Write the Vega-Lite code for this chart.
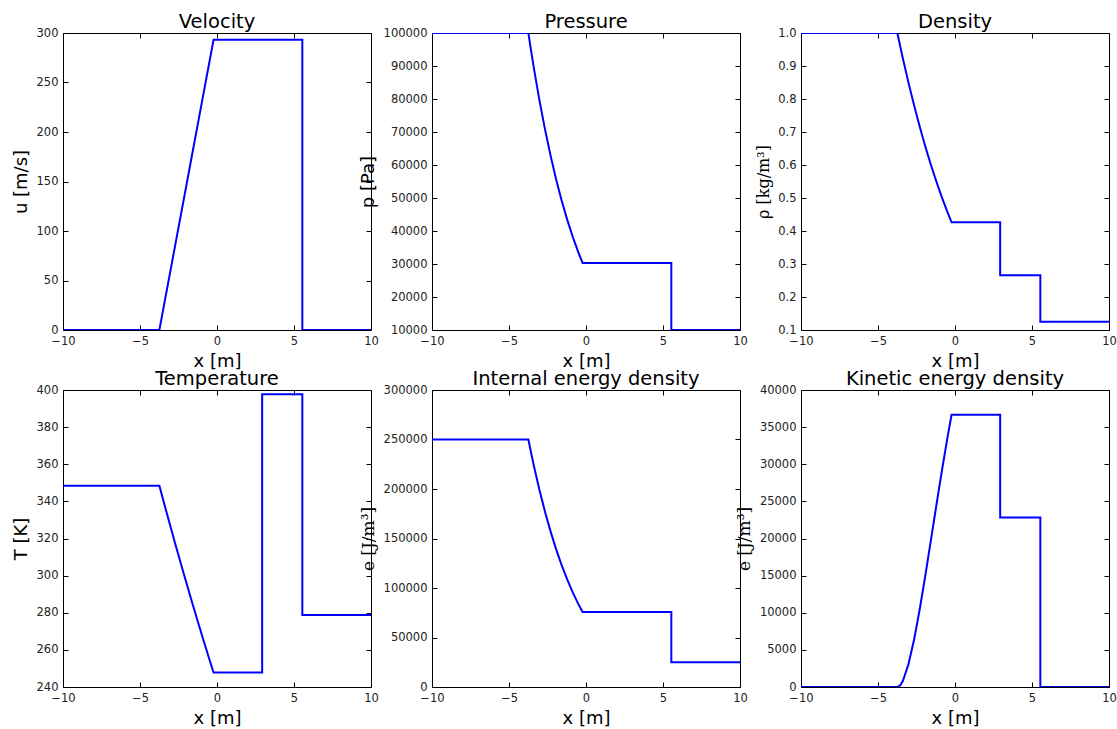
{
  "$schema": "https://vega.github.io/schema/vega-lite/v6.json",
  "autosize": {"type": "pad"},
  "padding": {"left": 11, "top": 11, "right": 0, "bottom": 0},
  "background": "white",
  "datasets": {
    "sod": [
      {"i": 0, "x": -10, "u": 0, "p": 100000, "rho": 1, "T": 348.43, "e": 250000, "k": 0},
      {"i": 1, "x": -3.742, "u": 0, "p": 100000, "rho": 1, "T": 348.43, "e": 250000, "k": 0},
      {"i": 2, "x": -3.562, "u": 15, "p": 94521, "rho": 0.96055, "T": 342.87, "e": 236302, "k": 216},
      {"i": 3, "x": -3.382, "u": 30, "p": 89301, "rho": 0.92236, "T": 337.35, "e": 223253, "k": 830},
      {"i": 4, "x": -3.022, "u": 60, "p": 79599, "rho": 0.84961, "T": 326.44, "e": 198997, "k": 3059},
      {"i": 5, "x": -2.662, "u": 90, "p": 70814, "rho": 0.78152, "T": 315.71, "e": 177035, "k": 6330},
      {"i": 6, "x": -2.302, "u": 120, "p": 62875, "rho": 0.71788, "T": 305.17, "e": 157187, "k": 10338},
      {"i": 7, "x": -1.942, "u": 150, "p": 55710, "rho": 0.65845, "T": 294.8, "e": 139275, "k": 14815},
      {"i": 8, "x": -1.582, "u": 180, "p": 49257, "rho": 0.60303, "T": 284.61, "e": 123143, "k": 19538},
      {"i": 9, "x": -1.222, "u": 210, "p": 43456, "rho": 0.5514, "T": 274.6, "e": 108640, "k": 24317},
      {"i": 10, "x": -0.862, "u": 240, "p": 38250, "rho": 0.50336, "T": 264.77, "e": 95625, "k": 28994},
      {"i": 11, "x": -0.502, "u": 270, "p": 33588, "rho": 0.45874, "T": 255.12, "e": 83971, "k": 33442},
      {"i": 12, "x": -0.222, "u": 293.29, "p": 30312, "rho": 0.42631, "T": 247.75, "e": 75780, "k": 36671},
      {"i": 13, "x": 2.933, "u": 293.29, "p": 30312, "rho": 0.42631, "T": 247.75, "e": 75780, "k": 36671},
      {"i": 14, "x": 2.933, "u": 293.29, "p": 30312, "rho": 0.26557, "T": 397.7, "e": 75780, "k": 22844},
      {"i": 15, "x": 5.541, "u": 293.29, "p": 30312, "rho": 0.26557, "T": 397.7, "e": 75780, "k": 22844},
      {"i": 16, "x": 5.541, "u": 0, "p": 10000, "rho": 0.125, "T": 278.75, "e": 25000, "k": 0},
      {"i": 17, "x": 10, "u": 0, "p": 10000, "rho": 0.125, "T": 278.75, "e": 25000, "k": 0}
    ]
  },
  "data": {"name": "sod"},
  "columns": 3,
  "spacing": {"row": 60, "column": 61},
  "bounds": "flush",
  "concat": [
    {
      "width": 308, "height": 297,
      "title": "Velocity",
      "layer": [
        {"mark": {"type": "line", "color": "#0000ff", "strokeWidth": 2, "clip": true},
         "encoding": {
           "x": {"field": "x", "type": "quantitative", "scale": {"domain": [-10, 10], "nice": false}, "axis": {"orient": "bottom", "values": [-10, -5, 0, 5, 10], "title": "x [m]"}},
           "y": {"field": "u", "type": "quantitative", "scale": {"domain": [0, 300], "nice": false, "zero": false}, "axis": {"orient": "left", "values": [0, 50, 100, 150, 200, 250, 300], "format": "d", "title": "u [m/s]"}},
           "order": {"field": "i"}}},
        {"mark": {"type": "line", "strokeOpacity": 0},
         "encoding": {
           "x": {"field": "x", "type": "quantitative", "axis": {"orient": "top", "values": [-10, -5, 0, 5, 10], "labels": false, "title": null}},
           "y": {"field": "u", "type": "quantitative", "axis": {"orient": "right", "values": [0, 50, 100, 150, 200, 250, 300], "labels": false, "title": null}},
           "order": {"field": "i"}}}
      ]
    },
    {
      "width": 308, "height": 297,
      "title": "Pressure",
      "layer": [
        {"mark": {"type": "line", "color": "#0000ff", "strokeWidth": 2, "clip": true},
         "encoding": {
           "x": {"field": "x", "type": "quantitative", "scale": {"domain": [-10, 10], "nice": false}, "axis": {"orient": "bottom", "values": [-10, -5, 0, 5, 10], "title": "x [m]"}},
           "y": {"field": "p", "type": "quantitative", "scale": {"domain": [10000, 100000], "nice": false, "zero": false}, "axis": {"orient": "left", "values": [10000, 20000, 30000, 40000, 50000, 60000, 70000, 80000, 90000, 100000], "format": "d", "title": "p [Pa]"}},
           "order": {"field": "i"}}},
        {"mark": {"type": "line", "strokeOpacity": 0},
         "encoding": {
           "x": {"field": "x", "type": "quantitative", "axis": {"orient": "top", "values": [-10, -5, 0, 5, 10], "labels": false, "title": null}},
           "y": {"field": "p", "type": "quantitative", "axis": {"orient": "right", "values": [10000, 20000, 30000, 40000, 50000, 60000, 70000, 80000, 90000, 100000], "labels": false, "title": null}},
           "order": {"field": "i"}}}
      ]
    },
    {
      "width": 308, "height": 297,
      "title": "Density",
      "layer": [
        {"mark": {"type": "line", "color": "#0000ff", "strokeWidth": 2, "clip": true},
         "encoding": {
           "x": {"field": "x", "type": "quantitative", "scale": {"domain": [-10, 10], "nice": false}, "axis": {"orient": "bottom", "values": [-10, -5, 0, 5, 10], "title": "x [m]"}},
           "y": {"field": "rho", "type": "quantitative", "scale": {"domain": [0.1, 1], "nice": false, "zero": false}, "axis": {"orient": "left", "values": [0.1, 0.2, 0.3, 0.4, 0.5, 0.6, 0.7, 0.8, 0.9, 1.0], "format": ".1f", "title": "ρ [kg/m³]", "titleFont": "DejaVu Serif", "titleFontSize": 16}},
           "order": {"field": "i"}}},
        {"mark": {"type": "line", "strokeOpacity": 0},
         "encoding": {
           "x": {"field": "x", "type": "quantitative", "axis": {"orient": "top", "values": [-10, -5, 0, 5, 10], "labels": false, "title": null}},
           "y": {"field": "rho", "type": "quantitative", "axis": {"orient": "right", "values": [0.1, 0.2, 0.3, 0.4, 0.5, 0.6, 0.7, 0.8, 0.9, 1.0], "labels": false, "title": null}},
           "order": {"field": "i"}}}
      ]
    },
    {
      "width": 308, "height": 297,
      "title": "Temperature",
      "layer": [
        {"mark": {"type": "line", "color": "#0000ff", "strokeWidth": 2, "clip": true},
         "encoding": {
           "x": {"field": "x", "type": "quantitative", "scale": {"domain": [-10, 10], "nice": false}, "axis": {"orient": "bottom", "values": [-10, -5, 0, 5, 10], "title": "x [m]"}},
           "y": {"field": "T", "type": "quantitative", "scale": {"domain": [240, 400], "nice": false, "zero": false}, "axis": {"orient": "left", "values": [240, 260, 280, 300, 320, 340, 360, 380, 400], "format": "d", "title": "T [K]"}},
           "order": {"field": "i"}}},
        {"mark": {"type": "line", "strokeOpacity": 0},
         "encoding": {
           "x": {"field": "x", "type": "quantitative", "axis": {"orient": "top", "values": [-10, -5, 0, 5, 10], "labels": false, "title": null}},
           "y": {"field": "T", "type": "quantitative", "axis": {"orient": "right", "values": [240, 260, 280, 300, 320, 340, 360, 380, 400], "labels": false, "title": null}},
           "order": {"field": "i"}}}
      ]
    },
    {
      "width": 308, "height": 297,
      "title": "Internal energy density",
      "layer": [
        {"mark": {"type": "line", "color": "#0000ff", "strokeWidth": 2, "clip": true},
         "encoding": {
           "x": {"field": "x", "type": "quantitative", "scale": {"domain": [-10, 10], "nice": false}, "axis": {"orient": "bottom", "values": [-10, -5, 0, 5, 10], "title": "x [m]"}},
           "y": {"field": "e", "type": "quantitative", "scale": {"domain": [0, 300000], "nice": false}, "axis": {"orient": "left", "values": [0, 50000, 100000, 150000, 200000, 250000, 300000], "format": "d", "title": "e [J/m³]", "titleFont": "DejaVu Serif", "titleFontSize": 17}},
           "order": {"field": "i"}}},
        {"mark": {"type": "line", "strokeOpacity": 0},
         "encoding": {
           "x": {"field": "x", "type": "quantitative", "axis": {"orient": "top", "values": [-10, -5, 0, 5, 10], "labels": false, "title": null}},
           "y": {"field": "e", "type": "quantitative", "axis": {"orient": "right", "values": [0, 50000, 100000, 150000, 200000, 250000, 300000], "labels": false, "title": null}},
           "order": {"field": "i"}}}
      ]
    },
    {
      "width": 308, "height": 297,
      "title": "Kinetic energy density",
      "layer": [
        {"mark": {"type": "line", "color": "#0000ff", "strokeWidth": 2, "clip": true},
         "encoding": {
           "x": {"field": "x", "type": "quantitative", "scale": {"domain": [-10, 10], "nice": false}, "axis": {"orient": "bottom", "values": [-10, -5, 0, 5, 10], "title": "x [m]"}},
           "y": {"field": "k", "type": "quantitative", "scale": {"domain": [0, 40000], "nice": false}, "axis": {"orient": "left", "values": [0, 5000, 10000, 15000, 20000, 25000, 30000, 35000, 40000], "format": "d", "title": "e [J/m³]", "titleFont": "DejaVu Serif", "titleFontSize": 17}},
           "order": {"field": "i"}}},
        {"mark": {"type": "line", "strokeOpacity": 0},
         "encoding": {
           "x": {"field": "x", "type": "quantitative", "axis": {"orient": "top", "values": [-10, -5, 0, 5, 10], "labels": false, "title": null}},
           "y": {"field": "k", "type": "quantitative", "axis": {"orient": "right", "values": [0, 5000, 10000, 15000, 20000, 25000, 30000, 35000, 40000], "labels": false, "title": null}},
           "order": {"field": "i"}}}
      ]
    }
  ],
  "config": {
    "font": "DejaVu Sans",
    "view": {"stroke": "#000000", "strokeWidth": 1},
    "axis": {
      "grid": false, "domain": false,
      "tickSize": -5, "tickColor": "#000000", "tickWidth": 1,
      "labelFont": "DejaVu Sans", "labelFontSize": 11.5, "labelColor": "#222222",
      "labelPadding": 10, "labelFlush": false, "labelOverlap": false,
      "titleFont": "DejaVu Sans", "titleFontSize": 18, "titleFontWeight": "normal", "titleColor": "#000000",
      "titlePadding": 6
    },
    "title": {"font": "DejaVu Sans", "fontSize": 19.5, "fontWeight": "normal", "color": "#000000", "offset": -5}
  }
}
